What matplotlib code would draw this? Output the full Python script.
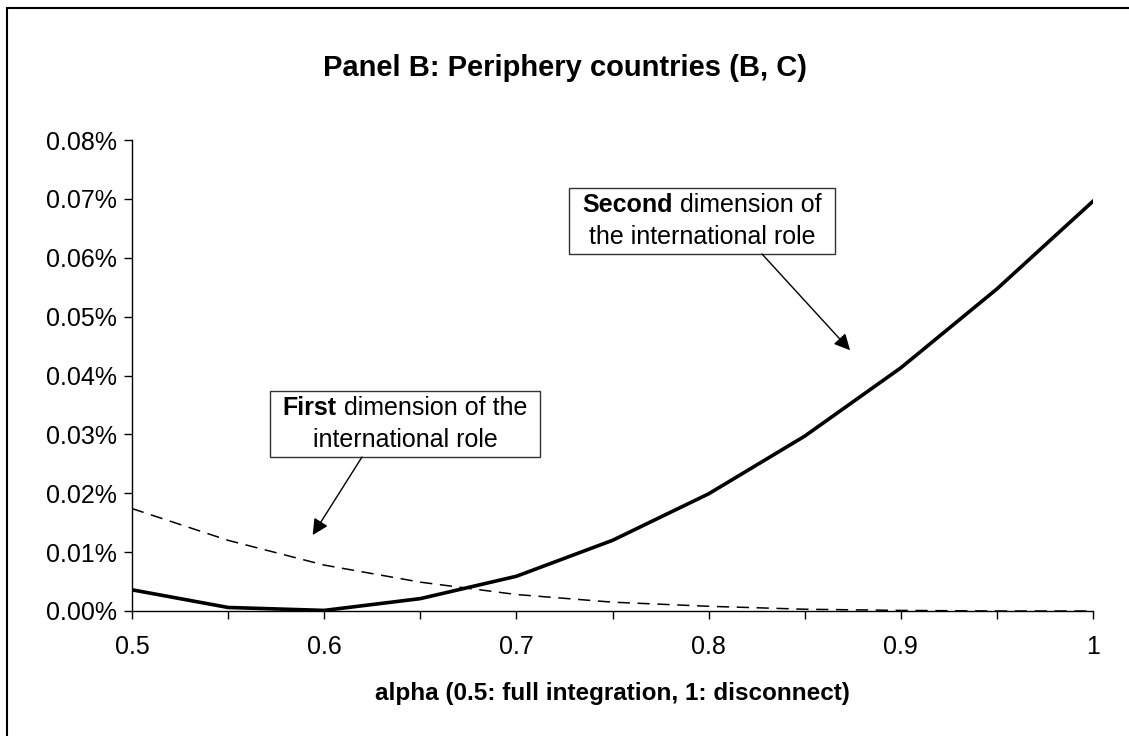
import numpy as np
import matplotlib
matplotlib.use('Agg')
import matplotlib.pyplot as plt
from matplotlib.patches import Rectangle
from matplotlib.offsetbox import TextArea, HPacker, VPacker, AnnotationBbox, DrawingArea

plt.rcParams['font.family'] = ['Liberation Sans', 'DejaVu Sans']

# alpha grid and welfare values (in percent)
alpha = [0.5, 0.55, 0.6, 0.65, 0.7, 0.75, 0.8, 0.85, 0.9, 0.95, 1.0]
second_dim = [0.0036, 0.0006, 0.0001, 0.0021, 0.0059, 0.0120, 0.0199, 0.0297, 0.0413, 0.0547, 0.0696]
first_dim = [0.0174, 0.0120, 0.0078, 0.0049, 0.0028, 0.0015, 0.0008, 0.0003, 0.0001, 0.0000, 0.0000]

W, H = 1129, 736
fig = plt.figure(figsize=(W / 100, H / 100), dpi=100)
ax = fig.add_axes([132 / W, 1 - 611 / H, (1093 - 132) / W, (611 - 140) / H])

ax.plot(alpha, first_dim, color='black', lw=1.1, dashes=(8, 5))
ax.plot(alpha, second_dim, color='black', lw=2.6, solid_joinstyle='miter')

ax.set_xlim(0.5, 1.0)
ax.set_ylim(0, 0.08)
ax.set_xticks([0.5, 0.6, 0.7, 0.8, 0.9, 1.0])
ax.set_xticklabels(['0.5', '0.6', '0.7', '0.8', '0.9', '1'])
ax.set_xticks(np.arange(0.55, 1.0, 0.1), minor=True)
ax.set_yticks(np.arange(0, 0.081, 0.01))
ax.set_yticklabels(['{:.2f}%'.format(v) for v in np.arange(0, 0.081, 0.01)])
ax.tick_params(axis='both', which='both', direction='out', length=6, width=1, colors='black', labelsize=18)
ax.tick_params(axis='x', which='both', pad=11)
ax.tick_params(axis='y', pad=5)
for s in ['top', 'right']:
    ax.spines[s].set_visible(False)
for s in ['left', 'bottom']:
    ax.spines[s].set_linewidth(1)
ax.set_xlabel('alpha (0.5: full integration, 1: disconnect)', fontsize=17.5, fontweight='bold', labelpad=17)

fig.text(565 / W, 1 - 68 / H, 'Panel B: Periphery countries (B, C)', ha='center', va='center',
         fontsize=21, fontweight='bold')

# outer frame (only top/left edges fall inside the image)
fig.patches.append(Rectangle((7 / W, -0.1), 1.2, 1 - 8 / H + 0.1, transform=fig.transFigure,
                             fill=False, edgecolor='black', lw=1.5))


def label_box(bold, rest, line2, center):
    tp = dict(fontsize=18, color='black')
    l1 = HPacker(children=[TextArea(bold, textprops=dict(fontweight='bold', **tp)),
                           TextArea(rest, textprops=tp)], pad=0, sep=0)
    l2 = TextArea(line2, textprops=tp)
    lines = VPacker(children=[l1, l2], align='center', pad=0, sep=6)
    box = HPacker(children=[DrawingArea(6, 1), lines, DrawingArea(6, 1)], align='center', pad=0, sep=0)
    ab = AnnotationBbox(box, (center[0], H - center[1]), xycoords='figure pixels', frameon=True,
                        pad=0.35, bboxprops=dict(edgecolor='#333333', linewidth=1, facecolor='white'))
    ax.add_artist(ab)


label_box('First', ' dimension of the', 'international role', (405, 424))
label_box('Second', ' dimension of', 'the international role', (702, 221))

arrow = dict(arrowstyle='-|>', color='black', lw=1, mutation_scale=24, shrinkA=0, shrinkB=0)
ax.annotate('', xy=(0.594, 0.0129), xycoords='data', xytext=(362, H - 457),
            textcoords='figure pixels', arrowprops=arrow)
ax.annotate('', xy=(0.8736, 0.0443), xycoords='data', xytext=(762, H - 254),
            textcoords='figure pixels', arrowprops=arrow)

fig.savefig('out.png', dpi=100)
